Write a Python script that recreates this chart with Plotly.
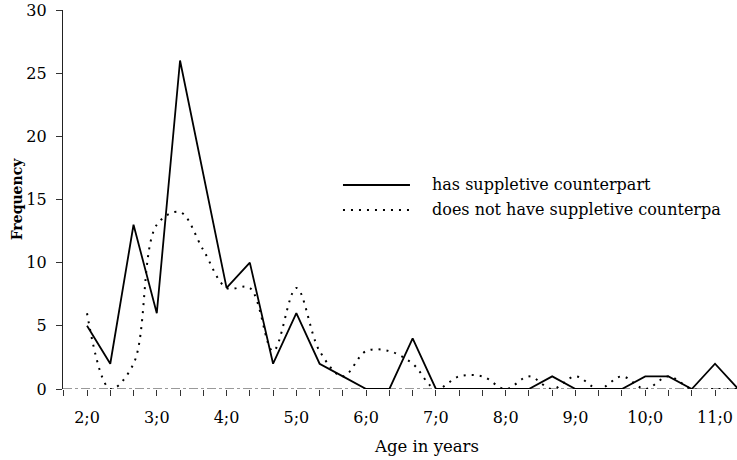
import plotly.graph_objects as go

# Age in months (4-month steps from 2;0 to 11;4)
age_months = [24, 28, 32, 36, 40, 44, 48, 52, 56, 60, 64, 68, 72, 76, 80, 84, 88, 92,
              96, 100, 104, 108, 112, 116, 120, 124, 128, 132, 136]

has_suppletive = [5, 2, 13, 6, 26, 17, 8, 10, 2, 6, 2, 1, 0, 0, 4, 0, 0, 0,
                  0, 0, 1, 0, 0, 0, 1, 1, 0, 2, 0]

no_suppletive = [6, 0, 2, 13, 14, 11, 8, 8, 3, 8, 3, 1, 3, 3, 2, 0, 1, 1,
                 0, 1, 0, 1, 0, 1, 0, 1, 0, 0, 0]

tick_vals = [24, 36, 48, 60, 72, 84, 96, 108, 120, 132]
tick_text = ["2;0", "3;0", "4;0", "5;0", "6;0", "7;0", "8;0", "9;0", "10;0", "11;0"]
y_ticks = [0, 5, 10, 15, 20, 25, 30]

series_names = ["has suppletive counterpart", "does not have suppletive counterpa"]

FONT = "DejaVu Serif"

fig = go.Figure()
fig.add_trace(go.Scatter(
    x=age_months, y=no_suppletive, mode="lines", name=series_names[1],
    line=dict(color="black", width=2, dash="2px,6px", shape="spline", smoothing=1.0),
    cliponaxis=False, showlegend=False))
fig.add_trace(go.Scatter(
    x=age_months, y=has_suppletive, mode="lines", name=series_names[0],
    line=dict(color="black", width=1.8), cliponaxis=False, showlegend=False))

# x axis baseline (dash-dot as in the scan)
fig.add_shape(type="line", xref="paper", yref="y", x0=0, x1=1, y0=0, y1=0,
              line=dict(color="#333", width=1, dash="dashdot"), layer="below")

# manual legend
legend_rows = [(0.5383, "solid", 1.8), (0.4723, "2px,6px", 2)]
for (yp, dash, w), name in zip(legend_rows, series_names):
    fig.add_shape(type="line", xref="paper", yref="paper", x0=0.4154, x1=0.5148,
                  y0=yp, y1=yp, line=dict(color="black", width=w, dash=dash))
    fig.add_annotation(xref="paper", yref="paper", x=0.5445, y=yp, text=name,
                       showarrow=False, xanchor="left", yanchor="middle",
                       font=dict(family=FONT, size=16, color="black"))

# x axis title (offset to the right as in the reference)
fig.add_annotation(xref="paper", yref="paper", x=0.540, y=-0.153, text="Age in years",
                   showarrow=False, xanchor="center", yanchor="middle",
                   font=dict(family=FONT, size=16.5, color="black"))

fig.update_layout(
    width=737, height=460,
    margin=dict(l=63, r=0, t=10, b=71),
    paper_bgcolor="white", plot_bgcolor="white",
    font=dict(family=FONT, color="black"),
    xaxis=dict(range=[19.87, 135.78], tickmode="array", tickvals=tick_vals,
               ticktext=tick_text, ticks="outside", ticklen=6, tickcolor="#333",
               tickwidth=1, showline=False, showgrid=False, zeroline=False,
               tickfont=dict(family=FONT, size=16), ticklabelstandoff=8,
               minor=dict(tickmode="linear", tick0=24, dtick=4, ticks="outside",
                          ticklen=6, tickcolor="#333", tickwidth=1, showgrid=False)),
    yaxis=dict(range=[0, 30], tickvals=y_ticks, ticks="outside", ticklen=6,
               tickcolor="#333", tickwidth=1, showline=True, linecolor="#222",
               linewidth=1.3, showgrid=False, zeroline=False,
               tickfont=dict(family=FONT, size=16), ticklabelstandoff=6,
               title=dict(text="<b>Frequency</b>", standoff=0,
                          font=dict(family=FONT, size=14))),
)

fig.write_html("out.html",
               config={"displayModeBar": False},
               post_script="document.body.style.margin='0';document.body.style.overflow='hidden';")
